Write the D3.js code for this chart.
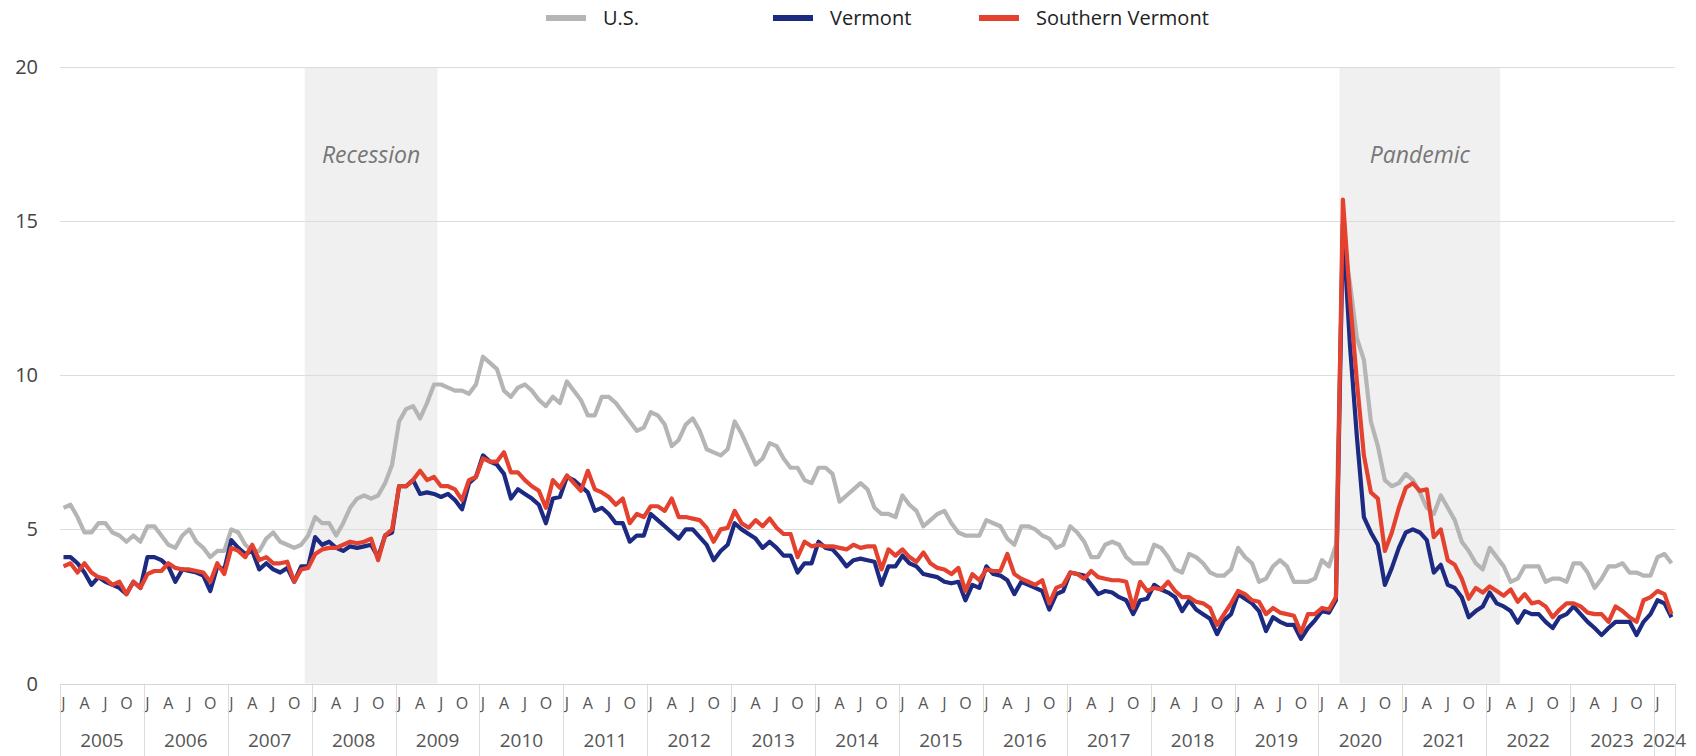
<!DOCTYPE html>
<html>
<head>
<meta charset="utf-8">
<script src="https://cdn.jsdelivr.net/npm/d3@7"></script>
<style>
  body { margin: 0; background: #fff; }
  svg { display: block; font-family: "Open Sans", sans-serif; }
</style>
</head>
<body>
<svg id="chart" width="1696" height="756"></svg>
<script>
// monthly unemployment rate, Jan 2005 - Mar 2024
var firstYear = 2005;
var yTicks = [0, 5, 10, 15, 20];
var monthLetters = ["J", "", "", "A", "", "", "J", "", "", "O", "", ""];
var seriesNames = ["U.S.", "Vermont", "Southern Vermont"];

var usRates = [
  5.7, 5.8, 5.4, 4.9, 4.9, 5.2, 5.2, 4.9, 4.8, 4.6, 4.8, 4.6,
  5.1, 5.1, 4.8, 4.5, 4.4, 4.8, 5.0, 4.6, 4.4, 4.1, 4.3, 4.3,
  5.0, 4.9, 4.5, 4.3, 4.3, 4.7, 4.9, 4.6, 4.5, 4.4, 4.5, 4.8,
  5.4, 5.2, 5.2, 4.8, 5.2, 5.7, 6.0, 6.1, 6.0, 6.1, 6.5, 7.1,
  8.5, 8.9, 9.0, 8.6, 9.1, 9.7, 9.7, 9.6, 9.5, 9.5, 9.4, 9.7,
  10.6, 10.4, 10.2, 9.5, 9.3, 9.6, 9.7, 9.5, 9.2, 9.0, 9.3, 9.1,
  9.8, 9.5, 9.2, 8.7, 8.7, 9.3, 9.3, 9.1, 8.8, 8.5, 8.2, 8.3,
  8.8, 8.7, 8.4, 7.7, 7.9, 8.4, 8.6, 8.2, 7.6, 7.5, 7.4, 7.6,
  8.5, 8.1, 7.6, 7.1, 7.3, 7.8, 7.7, 7.3, 7.0, 7.0, 6.6, 6.5,
  7.0, 7.0, 6.8, 5.9, 6.1, 6.3, 6.5, 6.3, 5.7, 5.5, 5.5, 5.4,
  6.1, 5.8, 5.6, 5.1, 5.3, 5.5, 5.6, 5.2, 4.9, 4.8, 4.8, 4.8,
  5.3, 5.2, 5.1, 4.7, 4.5, 5.1, 5.1, 5.0, 4.8, 4.7, 4.4, 4.5,
  5.1, 4.9, 4.6, 4.1, 4.1, 4.5, 4.6, 4.5, 4.1, 3.9, 3.9, 3.9,
  4.5, 4.4, 4.1, 3.7, 3.6, 4.2, 4.1, 3.9, 3.6, 3.5, 3.5, 3.7,
  4.4, 4.1, 3.9, 3.3, 3.4, 3.8, 4.0, 3.8, 3.3, 3.3, 3.3, 3.4,
  4.0, 3.8, 4.5, 14.4, 13.0, 11.2, 10.5, 8.5, 7.7, 6.6, 6.4, 6.5,
  6.8, 6.6, 6.2, 5.7, 5.5, 6.1, 5.7, 5.3, 4.6, 4.3, 3.9, 3.7,
  4.4, 4.1, 3.8, 3.3, 3.4, 3.8, 3.8, 3.8, 3.3, 3.4, 3.4, 3.3,
  3.9, 3.9, 3.6, 3.1, 3.4, 3.8, 3.8, 3.9, 3.6, 3.6, 3.5, 3.5,
  4.1, 4.2, 3.9
];

var vermontRates = [
  4.1, 4.1, 3.9, 3.6, 3.2, 3.45, 3.3, 3.2, 3.1, 2.9, 3.3, 3.1,
  4.1, 4.1, 4.0, 3.8, 3.3, 3.7, 3.65, 3.6, 3.5, 3.0, 3.8, 3.7,
  4.65, 4.4, 4.2, 4.3, 3.7, 3.9, 3.7, 3.6, 3.75, 3.3, 3.8, 3.8,
  4.75, 4.5, 4.6, 4.4, 4.3, 4.45, 4.4, 4.45, 4.5, 4.1, 4.8, 4.9,
  6.4, 6.4, 6.6, 6.15, 6.2, 6.15, 6.05, 6.15, 5.95, 5.65, 6.5, 6.7,
  7.4, 7.2, 7.1, 6.8, 6.0, 6.3, 6.15, 6.0, 5.8, 5.2, 6.0, 6.05,
  6.7, 6.6, 6.4, 6.2, 5.6, 5.7, 5.5, 5.2, 5.2, 4.6, 4.8, 4.8,
  5.5, 5.3, 5.1, 4.9, 4.7, 5.0, 5.0, 4.75, 4.5, 4.0, 4.3, 4.5,
  5.2, 5.0, 4.85, 4.7, 4.4, 4.6, 4.4, 4.15, 4.15, 3.6, 3.9, 3.9,
  4.6, 4.4, 4.35, 4.1, 3.8, 4.0, 4.05, 4.0, 3.95, 3.2, 3.8, 3.8,
  4.15, 3.9, 3.8, 3.55, 3.5, 3.45, 3.3, 3.25, 3.3, 2.7, 3.2, 3.1,
  3.8, 3.55, 3.5, 3.35, 2.9, 3.3, 3.2, 3.1, 3.0, 2.4, 2.9, 3.0,
  3.6, 3.55, 3.5, 3.2, 2.9, 3.0, 2.95, 2.8, 2.7, 2.25, 2.7, 2.75,
  3.2, 3.05, 2.95, 2.8, 2.35, 2.7, 2.4, 2.25, 2.1, 1.6, 2.05, 2.25,
  2.9, 2.75, 2.6, 2.35, 1.7, 2.15, 2.0, 1.9, 1.9, 1.45, 1.8, 2.05,
  2.35, 2.3, 2.7, 14.9, 11.0, 8.0, 5.4, 4.9, 4.5, 3.2, 3.75, 4.4,
  4.9, 5.0, 4.9, 4.65, 3.6, 3.85, 3.2, 3.1, 2.8, 2.15, 2.35, 2.5,
  2.95, 2.6, 2.5, 2.35, 1.97, 2.35, 2.25, 2.25, 2.0, 1.8, 2.15, 2.25,
  2.5, 2.25, 2.0, 1.8, 1.57, 1.8, 2.0, 2.0, 2.0, 1.57, 2.0, 2.25,
  2.7, 2.6, 2.15
];

var southernVtRates = [
  3.8, 3.9, 3.6, 3.9, 3.6, 3.45, 3.4, 3.2, 3.3, 2.9, 3.3, 3.1,
  3.55, 3.65, 3.65, 3.9, 3.75, 3.7, 3.7, 3.65, 3.6, 3.3, 3.9, 3.55,
  4.4, 4.3, 4.1, 4.5, 4.0, 4.1, 3.9, 3.9, 3.95, 3.3, 3.7, 3.75,
  4.2, 4.35, 4.4, 4.4, 4.5, 4.6, 4.55, 4.6, 4.7, 4.0, 4.8, 5.0,
  6.4, 6.4, 6.6, 6.9, 6.6, 6.7, 6.4, 6.4, 6.3, 5.95, 6.6, 6.7,
  7.3, 7.2, 7.2, 7.5, 6.85, 6.85, 6.6, 6.4, 6.25, 5.7, 6.6, 6.35,
  6.75, 6.5, 6.25, 6.9, 6.3, 6.2, 6.05, 5.8, 6.0, 5.2, 5.5, 5.4,
  5.75, 5.75, 5.6, 6.0, 5.4, 5.4, 5.35, 5.3, 5.05, 4.6, 5.0, 5.05,
  5.6, 5.2, 5.05, 5.3, 5.1, 5.35, 5.05, 4.85, 4.85, 4.1, 4.6, 4.45,
  4.5, 4.45, 4.45, 4.4, 4.35, 4.5, 4.4, 4.45, 4.45, 3.7, 4.35, 4.15,
  4.35, 4.1, 3.95, 4.25, 3.9, 3.75, 3.7, 3.55, 3.75, 3.0, 3.55, 3.35,
  3.7, 3.65, 3.65, 4.2, 3.55, 3.4, 3.3, 3.2, 3.35, 2.6, 3.1, 3.2,
  3.6, 3.55, 3.4, 3.65, 3.45, 3.4, 3.35, 3.35, 3.3, 2.45, 3.3, 3.0,
  3.1, 3.05, 3.3, 3.0, 2.8, 2.8, 2.65, 2.6, 2.45, 1.9, 2.25, 2.6,
  3.0, 2.9, 2.7, 2.65, 2.25, 2.45, 2.3, 2.25, 2.2, 1.65, 2.25, 2.25,
  2.45, 2.4, 2.8, 15.7, 12.5, 9.8, 7.4, 6.2, 6.0, 4.3, 4.9, 5.7,
  6.35, 6.5, 6.25, 6.3, 4.75, 5.0, 4.0, 3.85, 3.4, 2.75, 3.1, 2.95,
  3.15, 3.0, 2.85, 3.05, 2.65, 2.9, 2.6, 2.65, 2.5, 2.15, 2.4, 2.6,
  2.6, 2.5, 2.3, 2.25, 2.25, 2.0, 2.5, 2.35, 2.15, 2.0, 2.7, 2.8,
  3.0, 2.9, 2.25
];

// shaded periods: first and last month (inclusive)
var shadeLabels = ["Recession", "Pandemic"];
var shadeStarts = ["2007-12", "2020-04"];
var shadeEnds = ["2009-06", "2022-02"];

var colors = ["#b5b5b5", "#1d2a82", "#e4422f"];

var width = 1696;
var height = 756;
var margin = { top: 67, right: 21, bottom: 73, left: 60 };

var svg = d3.select("#chart");

function monthKey(i) {
  var y = firstYear + Math.floor(i / 12);
  var m = (i % 12) + 1;
  return y + "-" + (m < 10 ? "0" + m : m);
}

var months = usRates.map((d, i) => monthKey(i));
var series = [usRates, vermontRates, southernVtRates];

var x = d3.scaleBand()
  .domain(months)
  .range([margin.left, width - margin.right])
  .padding(0);

var y = d3.scaleLinear()
  .domain([0, 20])
  .range([height - margin.bottom + 0.5, margin.top]);

var bw = x.bandwidth();
var plotBottom = y(0);

// shaded bands
shadeLabels.forEach((label, i) => {
  var x0 = x(shadeStarts[i]);
  var x1 = x(shadeEnds[i]) + bw;
  svg.append("rect")
    .attr("x", x0)
    .attr("y", y(20))
    .attr("width", x1 - x0)
    .attr("height", plotBottom - y(20))
    .attr("fill", "#f0f0f0");
  svg.append("text")
    .attr("x", (x0 + x1) / 2)
    .attr("y", 163)
    .attr("text-anchor", "middle")
    .style("font-size", "23px")
    .style("font-style", "italic")
    .style("fill", "#777")
    .text(label);
});

// gridlines + y labels
yTicks.forEach(t => {
  if (t > 0) {
    svg.append("line")
      .attr("x1", margin.left)
      .attr("x2", width - margin.right)
      .attr("y1", Math.round(y(t)) + 0.5)
      .attr("y2", Math.round(y(t)) + 0.5)
      .attr("stroke", "#dcdcdc")
      .attr("stroke-width", 1);
  }
  svg.append("text")
    .attr("x", 38)
    .attr("y", y(t) + 7)
    .attr("text-anchor", "end")
    .style("font-size", "20px")
    .style("fill", "#444")
    .text(t);
});

// x axis line
svg.append("line")
  .attr("x1", margin.left)
  .attr("x2", width - margin.right)
  .attr("y1", Math.round(plotBottom) + 0.5)
  .attr("y2", Math.round(plotBottom) + 0.5)
  .attr("stroke", "#d4d4d4");

// month letters
months.forEach((m, i) => {
  var letter = monthLetters[i % 12];
  if (!letter) return;
  svg.append("text")
    .attr("x", x(m) + bw / 2)
    .attr("y", 709)
    .attr("text-anchor", "middle")
    .style("font-size", "16px")
    .style("fill", "#555")
    .text(letter);
});

// year separators and labels
var years = d3.range(firstYear, firstYear + Math.ceil(months.length / 12));
years.forEach(yr => {
  var yrMonths = months.filter(m => +m.slice(0, 4) === yr);
  var xa = x(yrMonths[0]);
  var xb = x(yrMonths[yrMonths.length - 1]) + bw;
  svg.append("line")
    .attr("x1", Math.round(xa) + 0.5)
    .attr("x2", Math.round(xa) + 0.5)
    .attr("y1", plotBottom)
    .attr("y2", height)
    .attr("stroke", "#dcdcdc");
  svg.append("text")
    .attr("x", (xa + xb) / 2)
    .attr("y", 747)
    .attr("text-anchor", "middle")
    .style("font-size", "19px")
    .style("fill", "#555")
    .text(yr);
});
svg.append("line")
  .attr("x1", Math.round(width - margin.right) + 0.5)
  .attr("x2", Math.round(width - margin.right) + 0.5)
  .attr("y1", plotBottom)
  .attr("y2", height)
  .attr("stroke", "#dcdcdc");

// lines
var line = d3.line()
  .x((d, i) => x(months[i]) + bw / 2)
  .y(d => y(d));

series.forEach((vals, i) => {
  svg.append("path")
    .datum(vals)
    .attr("fill", "none")
    .attr("stroke", colors[i])
    .attr("stroke-width", 4.2)
    .attr("stroke-linejoin", "round")
    .attr("d", line);
});

// legend
var legendX = [546, 773, 979];
seriesNames.forEach((name, i) => {
  var g = svg.append("g").attr("transform", `translate(${legendX[i]},18)`);
  g.append("line")
    .attr("x1", 0).attr("x2", 40)
    .attr("stroke", colors[i])
    .attr("stroke-width", 6);
  g.append("text")
    .attr("x", 57)
    .attr("y", 7)
    .style("font-size", "20px")
    .style("fill", "#222")
    .text(name);
});
</script>
</body>
</html>
